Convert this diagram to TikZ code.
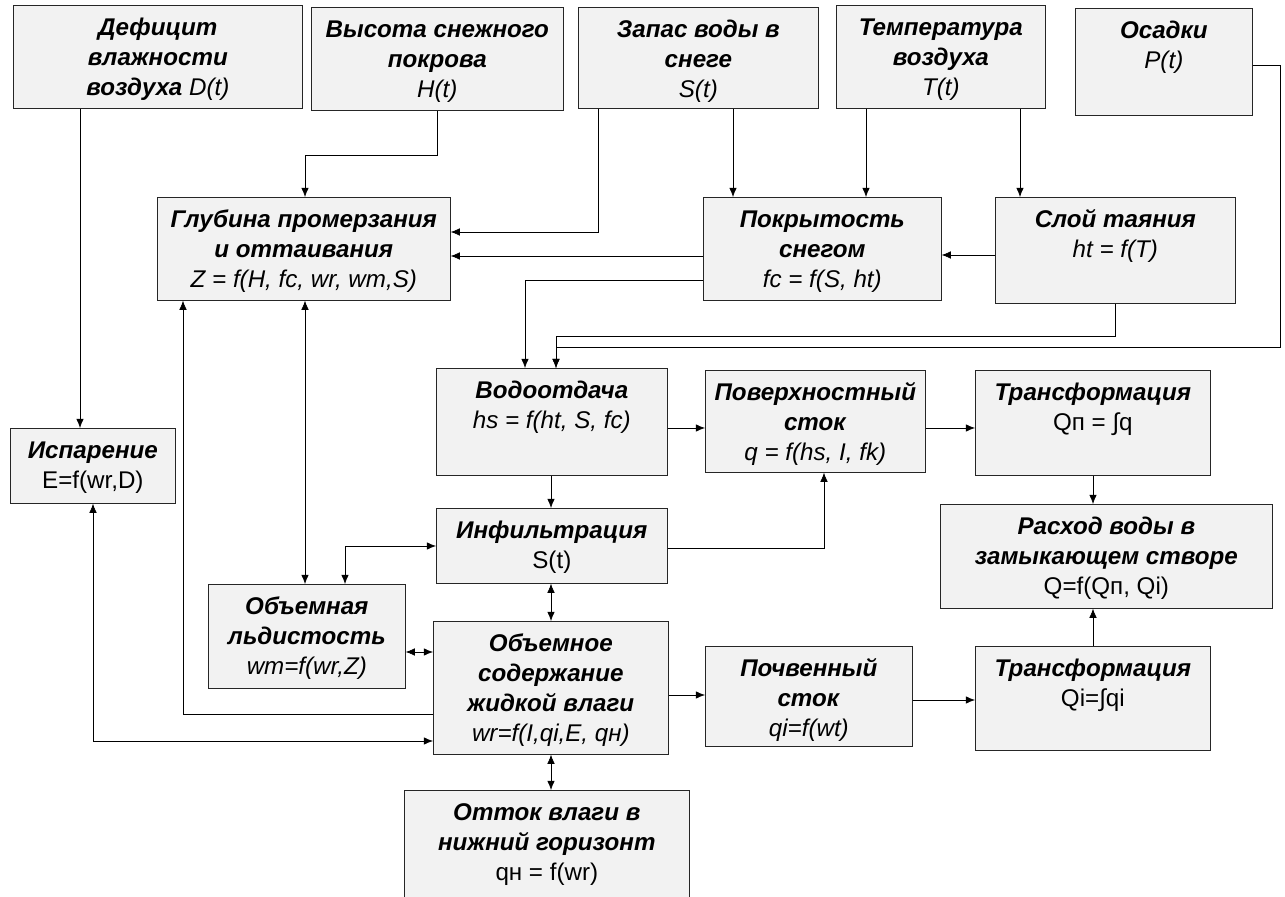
\documentclass[tikz,border=0pt]{standalone}
\usepackage{fontspec}
\setmainfont{Liberation Sans}
\usetikzlibrary{arrows.meta}
\tikzset{->, >={Latex[length=5.5pt,width=4.5pt]}, line width=1pt,
  blok/.style={rectangle, draw=black!85, fill=black!5, inner xsep=0pt, inner ysep=5.5pt, anchor=north west, font=\fontsize{14.5}{18}\selectfont}}
\newcommand{\blk}[3]{\parbox[t][\dimexpr0.6pt*#2-11pt\relax][t]{\dimexpr0.6pt*#1\relax}{\centering\strut#3}}
\newcommand{\zag}[1]{\textbf{\textit{#1}}}

\begin{document}
\begin{tikzpicture}[x=0.6pt, y=-0.6pt]
        \useasboundingbox (0,0) rectangle (1285,897);
        \node[blok] (def) at (13,5) {\blk{289}{103}{\zag{Дефицит}\\ \zag{влажности}\\ \zag{воздуха} \textit{D(t)}}};
        \node[blok] (vys) at (311,7) {\blk{252}{103}{\zag{Высота снежного}\\ \zag{покрова}\\ \textit{H(t)}}};
        \node[blok] (zap) at (578,7) {\blk{240}{101}{\zag{Запас воды в}\\ \zag{снеге}\\ \textit{S(t)}}};
        \node[blok] (tem) at (836,5) {\blk{209}{103}{\zag{Температура}\\ \zag{воздуха}\\ \textit{T(t)}}};
        \node[blok] (osa) at (1075,8) {\blk{177}{107}{\zag{Осадки}\\ \textit{P(t)}}};
        \node[blok] (zg) at (157,197) {\blk{293}{103}{\zag{Глубина промерзания}\\ \zag{и оттаивания}\\ \textit{Z = f(H, fc, wr, wm,S)}}};
        \node[blok] (pok) at (703,197) {\blk{238}{103}{\zag{Покрытость}\\ \zag{снегом}\\ \textit{fc = f(S, ht)}}};
        \node[blok] (sloy) at (995,197) {\blk{240}{106}{\zag{Слой таяния}\\ \textit{ht = f(T)}}};
        \node[blok] (vod) at (436,368) {\blk{231}{107}{\zag{Водоотдача}\\ \textit{hs = f(ht, S, fc)}}};
        \node[blok] (pov) at (705,370) {\blk{220}{102}{\zag{Поверхностный}\\ \zag{сток}\\ \textit{q = f(hs, I, fk)}}};
        \node[blok] (tr1) at (975,370) {\blk{235}{105}{\zag{Трансформация}\\ Qп = ∫q}};
        \node[blok] (isp) at (10,428) {\blk{165}{75}{\zag{Испарение}\\ E=f(wr,D)}};
        \node[blok] (inf) at (436,508) {\blk{231}{75}{\zag{Инфильтрация}\\ S(t)}};
        \node[blok] (ras) at (940,504) {\blk{332}{104}{\zag{Расход воды в}\\ \zag{замыкающем створе}\\ Q=f(Qп, Qi)}};
        \node[blok] (led) at (208,584) {\blk{197}{104}{\zag{Объемная}\\ \zag{льдистость}\\ \textit{wm=f(wr,Z)}}};
        \node[blok] (sod) at (433,621) {\blk{235}{133}{\zag{Объемное}\\ \zag{содержание}\\ \zag{жидкой влаги}\\ \textit{wr=f(I,qi,E, qн)}}};
        \node[blok] (poch) at (705,646) {\blk{207}{100}{\zag{Почвенный}\\ \zag{сток}\\ \textit{qi=f(wt)}}};
        \node[blok] (tr2) at (975,646) {\blk{235}{104}{\zag{Трансформация}\\ Qi=∫qi}};
        \node[blok] (ott) at (404,790) {\blk{285}{120}{\zag{Отток влаги в}\\ \zag{нижний горизонт}\\ qн = f(wr)}};
        \draw (def.south -| 80,0) -- (isp.north -| 80,0);
        \draw (vys.south) |- (305,155) -- (zg.north -| 305,0);
        \draw (zap.south -| 598,0) |- (zg.east |- 0,232);
        \draw (zap.south -| 733,0) -- (pok.north -| 733,0);
        \draw (tem.south -| 866,0) -- (pok.north -| 866,0);
        \draw (tem.south -| 1020,0) -- (sloy.north -| 1020,0);
        \draw (sloy.west |- 0,255) -- (pok.east |- 0,255);
        \draw (pok.west |- 0,256) -- (zg.east |- 0,256);
        \draw (pok.west |- 0,280) -| (vod.north -| 525,0);
        \draw (sloy.south -| 1115,0) |- (556,336) -- (vod.north -| 556,0);
        \draw (osa.east |- 0,65) -| (1280,347) -| (vod.north -| 556,0);
        \draw (vod.east |- 0,428) -- (pov.west |- 0,428);
        \draw (pov.east |- 0,428) -- (tr1.west |- 0,428);
        \draw (tr1.south -| 1093,0) -- (ras.north -| 1093,0);
        \draw (tr2.north -| 1093,0) -- (ras.south -| 1093,0);
        \draw (vod.south -| 551,0) -- (inf.north -| 551,0);
        \draw (inf.east |- 0,548) -| (pov.south -| 824,0);
        \draw[<->] (inf.west |- 0,546) -| (led.north -| 345,0);
        \draw[<->] (zg.south -| 305,0) -- (led.north -| 305,0);
        \draw[<->] (inf.south -| 551,0) -- (sod.north -| 551,0);
        \draw[<->] (led.east |- 0,652) -- (sod.west |- 0,652);
        \draw (sod.west |- 0,714) -| (zg.south -| 183,0);
        \draw[<->] (isp.south -| 93,0) |- (sod.west |- 0,741);
        \draw (sod.east |- 0,695) -- (poch.west |- 0,695);
        \draw (poch.east |- 0,700) -- (tr2.west |- 0,700);
        \draw[<->] (sod.south -| 551,0) -- (ott.north -| 551,0);
    \end{tikzpicture}
\end{document}
